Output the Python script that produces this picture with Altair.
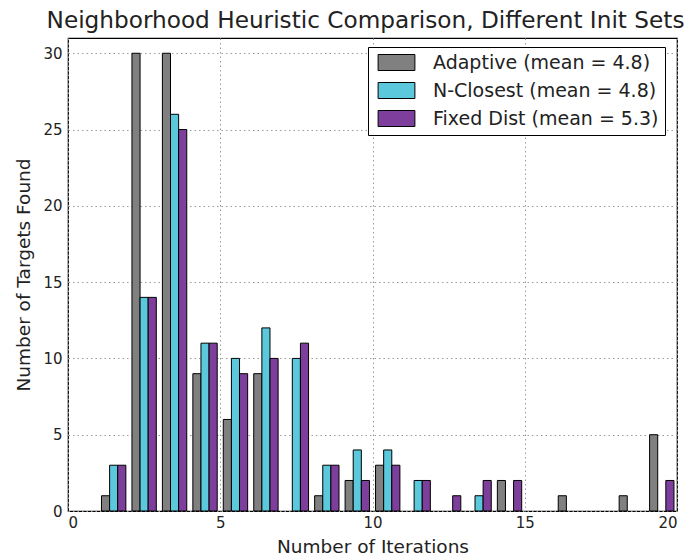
import altair as alt
import pandas as pd

# Histogram bins (left edges, width 1) and counts per heuristic
bin_starts = list(range(1, 20))
adaptive = [1, 30, 30, 9, 6, 9, 0, 1, 2, 3, 0, 0, 0, 2, 0, 1, 0, 1, 5]
n_closest = [3, 14, 26, 11, 10, 12, 10, 3, 4, 4, 2, 0, 1, 0, 0, 0, 0, 0, 0]
fixed_dist = [3, 14, 25, 11, 9, 10, 11, 3, 2, 3, 2, 1, 2, 2, 0, 0, 0, 0, 2]

series_names = [
    "Adaptive (mean = 4.8)",
    "N-Closest (mean = 4.8)",
    "Fixed Dist (mean = 5.3)",
]
series_colors = ["#808080", "#5bc8dc", "#7e3f9c"]

x_ticks = [0, 5, 10, 15, 20]
y_ticks = [0, 5, 10, 15, 20, 25, 30]

# Side-by-side bars inside each bin: 80% of the bin width split in three
rows = []
group_w = 0.8 / 3
for i, (name, counts) in enumerate(zip(series_names, [adaptive, n_closest, fixed_dist])):
    for b, c in zip(bin_starts, counts):
        if c == 0:
            continue
        x0 = b + 0.1 + i * group_w
        rows.append({"series": name, "order": i, "x0": x0, "x1": x0 + group_w, "count": c})
df = pd.DataFrame(rows)

FONT = "DejaVu Sans"

bars = (
    alt.Chart(df)
    .mark_rect(stroke="black", strokeWidth=1, opacity=1)
    .encode(
        x=alt.X(
            "x0:Q",
            scale=alt.Scale(domain=[0, 20], nice=False, zero=False),
            axis=alt.Axis(values=x_ticks, title="Number of Iterations", format="d"),
        ),
        x2="x1:Q",
        y=alt.Y(
            "count:Q",
            scale=alt.Scale(domain=[0, 31], nice=False),
            axis=alt.Axis(values=y_ticks, title="Number of Targets Found", format="d"),
        ),
        y2=alt.datum(0),
        color=alt.Color(
            "series:N",
            scale=alt.Scale(domain=series_names, range=series_colors),
            sort=series_names,
            legend=alt.Legend(
                title=None,
                orient="none",
                legendX=300,
                legendY=9,
                symbolType="M-2.3,-1H2.3V1H-2.3Z",
                symbolSize=256,
                symbolStrokeColor="black",
                symbolStrokeWidth=1,
                symbolOpacity=1,
                symbolOffset=13,
                labelOffset=27,
                labelLimit=400,
                rowPadding=7,
                labelFont=FONT,
                labelFontSize=19,
                labelColor="#222",
                padding=6,
                strokeColor="black",
                fillColor="white",
                cornerRadius=0,
            ),
        ),
    )
)

chart = (
    bars.properties(
        width=609,
        height=473,
        title=alt.Title(
            "Neighborhood Heuristic Comparison, Different Init Sets",
            font=FONT,
            fontSize=23.2,
            fontWeight="normal",
            color="#222",
            offset=5,
            dx=-7,
        ),
        autosize=alt.AutoSizeParams(type="none"),
        padding={"left": 68, "top": 38, "right": 11, "bottom": 49},
    )
    .configure_view(stroke="black", strokeWidth=1.2)
    .configure_axis(
        grid=True,
        gridColor="#9a9a9a",
        gridDash=[1.5, 3],
        gridWidth=1,
        ticks=False,
        domain=False,
        labelFont=FONT,
        labelFontSize=15,
        labelColor="#222",
        titleFont=FONT,
        titleFontSize=18.5,
        titleFontWeight="normal",
        titleColor="#222",
    )
    .configure_axisX(labelPadding=4, titlePadding=7)
    .configure_axisY(labelPadding=6, titlePadding=9)
)

chart.save("out.html", embed_options={"renderer": "svg", "actions": False})
